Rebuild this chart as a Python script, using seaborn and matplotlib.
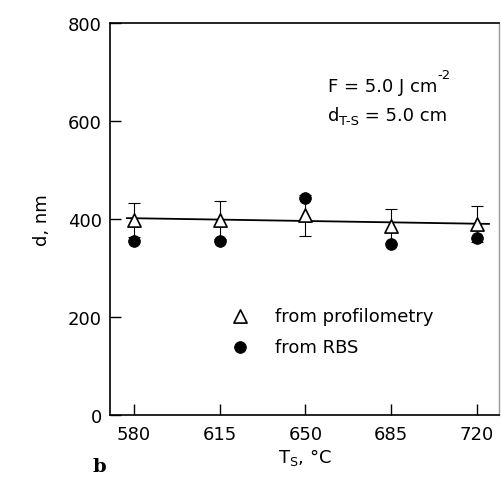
#%% Imports
import numpy as np
import pandas as pd
import matplotlib
matplotlib.use("Agg")
import matplotlib.pyplot as plt
import seaborn as sns
from matplotlib.ticker import FixedLocator

#%% Data
ts = [580, 615, 650, 685, 720]              # substrate temperature, C
d_profilometry = [398, 398, 408, 386, 390]  # thickness, nm
d_profilometry_err = [35, 39, 42, 34, 36]
d_rbs = [356, 356, 442, 349, 362]

df = pd.DataFrame({'Ts': ts, 'prof': d_profilometry, 'rbs': d_rbs})

# linear fit through the profilometry points
slope, intercept = np.polyfit(ts, d_profilometry, 1)
fit_x = np.array([577, 725])
fit_y = slope * fit_x + intercept

#%% Plot
sns.set_style("white")
plt.rcParams['font.family'] = ['DejaVu Sans']
plt.rcParams['mathtext.fontset'] = 'dejavusans'
plt.rcParams['text.color'] = 'black'
plt.rcParams['axes.labelcolor'] = 'black'
plt.rcParams['xtick.color'] = 'black'
plt.rcParams['ytick.color'] = 'black'

fig = plt.figure(figsize=(5.01, 4.81), dpi=100)
ax = fig.add_axes([0.2196, 0.1351, 0.7764, 0.8150])

ax.plot(fit_x, fit_y, color='black', lw=1.3, zorder=2)
ax.errorbar(ts, d_profilometry, yerr=d_profilometry_err, fmt='none',
            ecolor='black', elinewidth=0.8, capsize=4, capthick=0.8, zorder=3)
sns.scatterplot(data=df, x='Ts', y='prof', marker='^', s=90, facecolor='white',
                edgecolor='black', linewidth=1.2, ax=ax, zorder=4,
                label='from profilometry')
sns.scatterplot(data=df, x='Ts', y='rbs', marker='o', s=70, color='black',
                edgecolor='black', ax=ax, zorder=5, label='from RBS')

ax.set_xlim(570.2, 729)
ax.set_ylim(0, 800)
ax.xaxis.set_major_locator(FixedLocator(ts))
ax.yaxis.set_major_locator(FixedLocator([0, 200, 400, 600, 800]))
ax.tick_params(direction='in', length=8, width=1, labelsize=13, color='black',
               labelcolor='black', pad=6, bottom=True, left=True)
ax.tick_params(axis='x', pad=7)

for side in ['left', 'bottom', 'top']:
    ax.spines[side].set_color('black')
    ax.spines[side].set_linewidth(1.2)
ax.spines['right'].set_color('#999999')
ax.spines['right'].set_linewidth(1.0)

ax.set_xlabel(r'T$_\mathregular{S}$, °C', fontsize=13, labelpad=2)
ax.set_ylabel('d, nm', fontsize=13, labelpad=12)

leg = ax.legend(loc='upper left', bbox_to_anchor=(0.27, 0.295), frameon=False,
                fontsize=13, handletextpad=0.9, labelspacing=0.75,
                borderaxespad=0)

# annotation with plain hyphens in the super/subscripts
t1 = ax.text(0.56, 0.84, 'F = 5.0 J cm', transform=ax.transAxes,
             fontsize=13, va='center')
ax.annotate('-2', xy=(1.0, 0.75), xycoords=t1, fontsize=9.5,
            ha='left', va='bottom')
t2 = ax.text(0.56, 0.765, 'd', transform=ax.transAxes,
             fontsize=13, va='center')
t3 = ax.annotate('T-S', xy=(1.0, 0.02), xycoords=t2, fontsize=9.5,
                 ha='left', va='baseline')
ax.annotate(' = 5.0 cm', xy=(1.0, 0.0), xycoords=(t3, t2), fontsize=13,
            ha='left', va='bottom')

fig.text(0.185, 0.03, 'b', fontsize=14, fontweight='bold',
         family='DejaVu Serif', ha='left', va='center')

fig.savefig('out.png', dpi=100)
